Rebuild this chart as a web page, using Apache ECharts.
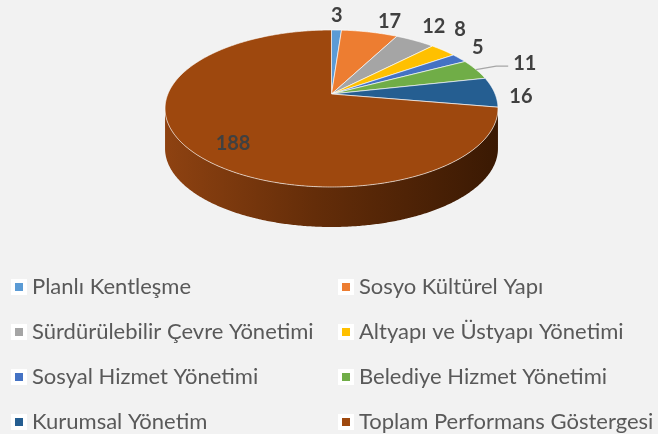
<!DOCTYPE html>
<html>
<head>
<meta charset="utf-8">
<script src="https://cdn.jsdelivr.net/npm/echarts@6/dist/echarts.min.js"></script>
<style>
  html, body { margin: 0; padding: 0; background: #f2f2f2; }
  #chart { width: 658px; height: 434px; }
</style>
</head>
<body>
<div id="chart"></div>
<script>
// Performance indicator counts per management area
const categories = [
  'Planlı Kentleşme',
  'Sosyo Kültürel Yapı',
  'Sürdürülebilir Çevre Yönetimi',
  'Altyapı ve Üstyapı Yönetimi',
  'Sosyal Hizmet Yönetimi',
  'Belediye Hizmet Yönetimi',
  'Kurumsal Yönetim',
  'Toplam Performans Göstergesi'
];
const values = [3, 17, 12, 8, 5, 11, 16, 188];
const colors = ['#5B9BD5', '#ED7D31', '#A5A5A5', '#FFC000', '#4472C4', '#70AD47', '#255E91', '#9E480E'];

// Legend columns (read row by row, two per row)
const legendLeft = [0, 2, 4, 6].map(i => categories[i]);
const legendRight = [1, 3, 5, 7].map(i => categories[i]);

// Tilted-disc geometry, in a 658x434 reference frame
const PIE = { cx: 331.5, cy: 94, rx: 163.6, ry: 75.82, k: 0.1847, depth: 40 };
// Label placement tweaks (pixels) and which labels use a leader line / sit inside
const LABEL_NUDGE = [[0, -3], [16, 0], [10, -5], [10, -14], [11, -5], [0, 0], [12, 5], [0, 11]];
const LEADER_LABELS = [5];
const INSIDE_LABELS = [7];
const LABEL_FONT = 'bold 20px Lato';
const LABEL_COLOR = '#404040';

const total = values.reduce((a, b) => a + b, 0);

function renderSlice(params, api) {
  const i = params.seriesIndex;
  const sx = api.getWidth() / 658, sy = api.getHeight() / 434;
  const v = api.value(0);
  const before = values.slice(0, i).reduce((a, b) => a + b, 0);
  const a0 = before / total * 360;
  const a1 = (before + v) / total * 360;

  const proj = (deg, r, drop) => {
    const t = deg * Math.PI / 180;
    const u = r * Math.sin(t), w = r * Math.cos(t);
    const d = 1 + PIE.k * w;
    return [(PIE.cx + PIE.rx * u / d) * sx, (PIE.cy - PIE.ry * w / d + (drop || 0)) * sy];
  };
  const arc = (from, to, drop) => {
    const pts = [];
    const n = Math.max(2, Math.ceil(Math.abs(to - from) / 0.5));
    for (let j = 0; j <= n; j++) pts.push(proj(from + (to - from) * j / n, 1, drop));
    return pts;
  };

  const children = [];

  // Front wall: only the part of the rim between the two silhouette points is visible
  const silR = Math.acos(-PIE.k) * 180 / Math.PI;
  const silL = 360 - silR;
  const s0 = Math.max(a0, silR), s1 = Math.min(a1, silL);
  if (s1 > s0) {
    const top = arc(s0, s1, 0);
    const bottom = arc(s1, s0, PIE.depth);
    children.push({
      type: 'polygon',
      shape: { points: top.concat(bottom) },
      style: {
        fill: new echarts.graphic.LinearGradient(0, 0, 1, 0, [
          { offset: 0, color: '#8e4211' },
          { offset: 0.45, color: '#642d09' },
          { offset: 1, color: '#3a1903' }
        ])
      }
    });
  }

  // Top face of the slice
  const topPts = [proj(0, 0, 0)].concat(arc(a0, a1, 0));
  children.push({
    type: 'polygon',
    shape: { points: topPts },
    style: { fill: api.visual('color'), stroke: 'rgba(255,255,255,0.8)', lineWidth: 0.8 }
  });

  // Value label
  const mid = (a0 + a1) / 2;
  const text = String(v);
  const nudge = LABEL_NUDGE[i] || [0, 0];
  if (INSIDE_LABELS.includes(i)) {
    const p = proj(mid, 0.72, 0);
    children.push({
      type: 'text', z2: 10,
      style: { x: p[0] + nudge[0] * sx, y: p[1] + nudge[1] * sy, text, font: LABEL_FONT, fill: LABEL_COLOR, align: 'center', verticalAlign: 'middle' }
    });
  } else if (LEADER_LABELS.includes(i)) {
    const rim = proj(mid, 1, 0);
    const elbow = proj(mid, 1.15, 0);
    const end = [elbow[0] + 12 * sx, elbow[1]];
    children.push({
      type: 'polyline', z2: 9,
      shape: { points: [rim, elbow, end] },
      style: { stroke: '#a6a6a6', lineWidth: 1.3, fill: null }
    });
    children.push({
      type: 'text', z2: 10,
      style: { x: end[0] + 5 * sx + nudge[0] * sx, y: end[1] - 3 * sy + nudge[1] * sy, text, font: LABEL_FONT, fill: LABEL_COLOR, align: 'left', verticalAlign: 'middle' }
    });
  } else {
    const rim = proj(mid, 1, 0);
    const t = mid * Math.PI / 180;
    const halfW = 5.8 * text.length, halfH = 8, gap = 3;
    const cx = rim[0] + Math.sin(t) * (halfW + gap) + nudge[0] * sx;
    const cy = rim[1] - Math.cos(t) * (halfH + gap) + nudge[1] * sy;
    children.push({
      type: 'text', z2: 10,
      style: { x: cx, y: cy, text, font: LABEL_FONT, fill: LABEL_COLOR, align: 'center', verticalAlign: 'middle' }
    });
  }

  return { type: 'group', children };
}

const legendBase = {
  orient: 'vertical',
  top: 276,
  height: 158,
  padding: 0,
  itemGap: 23,
  itemWidth: 12,
  itemHeight: 12,
  icon: 'rect',
  selectedMode: false,
  itemStyle: { borderColor: '#ffffff', borderWidth: 4 },
  textStyle: { fontFamily: 'Lato', fontSize: 22, color: '#595959', lineHeight: 22, padding: [0, 0, 0, 2] }
};

const chart = echarts.init(document.getElementById('chart'), null, { renderer: 'canvas' });
chart.setOption({
  backgroundColor: '#f2f2f2',
  animation: false,
  color: colors,
  legend: [
    Object.assign({}, legendBase, { left: 11, data: legendLeft }),
    Object.assign({}, legendBase, { left: 338, data: legendRight })
  ],
  series: categories.map((name, i) => ({
    type: 'custom',
    name,
    coordinateSystem: 'none',
    itemStyle: { color: colors[i] },
    renderItem: renderSlice,
    data: [[values[i]]]
  }))
});
</script>
</body>
</html>
